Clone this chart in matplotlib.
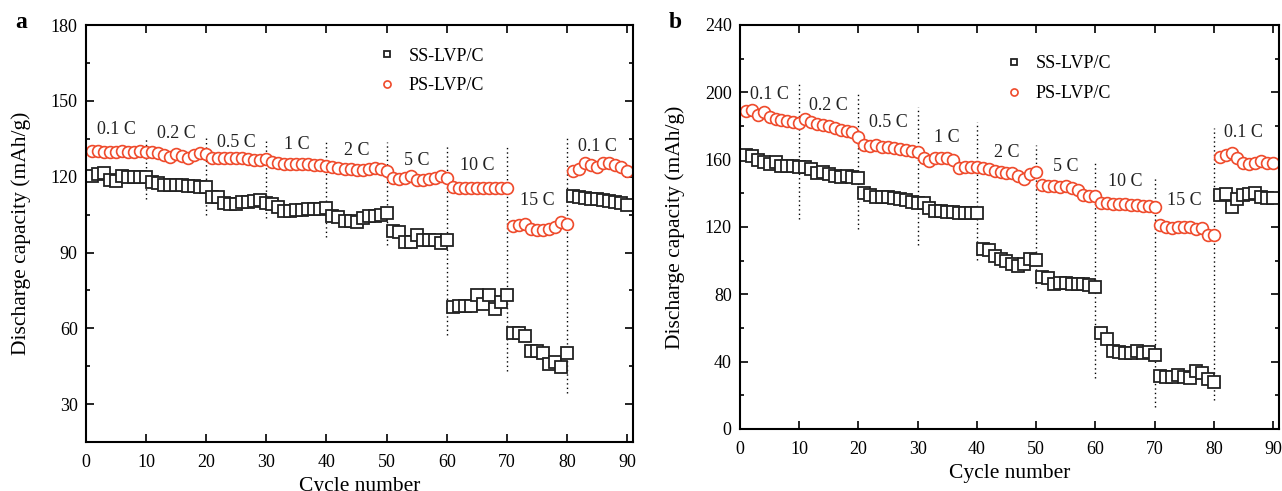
import numpy as np
import matplotlib.pyplot as plt
from matplotlib.ticker import MultipleLocator

plt.rcParams['font.family'] = ['Liberation Serif', 'DejaVu Serif']

cycles = np.arange(1, 91)

# panel a
ss_a = [120.2, 121.0, 121.3, 118.9, 118.4, 120.2, 120.0, 119.7, 119.7, 119.7,
        118.0, 117.4, 116.7, 116.7, 116.7, 116.7, 116.3, 116.3, 115.8, 115.8,
        112.1, 112.1, 109.7, 109.2, 109.4, 110.1, 110.1, 110.5, 110.7, 109.7,
        109.4, 108.1, 106.4, 106.4, 106.8, 106.8, 107.1, 107.1, 107.1, 107.5,
        104.5, 104.0, 102.5, 102.5, 102.0, 103.5, 104.5, 104.5, 105.0, 105.5,
        98.6, 98.2, 94.2, 94.2, 96.9, 94.9, 94.9, 94.9, 93.6, 94.9,
        68.5, 68.8, 68.8, 68.8, 73.2, 69.6, 73.2, 67.5, 70.5, 73.2,
        58.0, 58.0, 56.9, 51.1, 51.1, 50.3, 45.8, 46.8, 44.8, 50.3,
        112.3, 112.1, 111.4, 111.0, 111.0, 110.7, 110.5, 110.1, 109.7, 108.8]
ps_a = [130.0, 130.0, 129.9, 129.9, 129.9, 130.0, 129.9, 129.9, 130.0, 129.6,
        129.9, 129.5, 128.6, 127.9, 129.0, 128.2, 127.6, 128.6, 129.2, 128.8,
        127.6, 127.5, 127.5, 127.6, 127.6, 127.5, 127.1, 126.7, 126.7, 127.1,
        125.9, 125.5, 125.2, 125.2, 125.2, 124.9, 124.9, 124.5, 124.5, 124.2,
        123.9, 123.3, 123.0, 123.0, 122.6, 122.6, 123.0, 123.3, 123.0, 122.2,
        119.3, 119.1, 119.3, 120.2, 118.7, 118.7, 119.1, 119.3, 120.2, 119.6,
        116.0, 115.7, 115.6, 115.6, 115.7, 115.6, 115.7, 115.6, 115.6, 115.7,
        100.5, 100.9, 101.3, 99.2, 98.9, 98.9, 99.2, 100.2, 102.2, 101.1,
        122.2, 122.9, 125.3, 124.6, 123.9, 125.3, 125.5, 124.6, 123.9, 122.2]

# panel b
ss_b = [163.0, 162.0, 159.5, 158.4, 157.4, 158.4, 156.4, 156.4, 156.4, 155.9,
        155.9, 154.2, 151.9, 152.8, 151.5, 150.2, 149.5, 150.2, 149.8, 148.9,
        140.4, 139.0, 137.9, 137.9, 137.6, 137.0, 136.4, 136.0, 135.1, 134.0,
        134.4, 131.1, 129.6, 129.6, 129.0, 129.0, 128.5, 128.5, 128.5, 128.5,
        106.7, 106.2, 102.6, 101.0, 99.5, 98.0, 96.9, 98.0, 100.8, 100.3,
        90.1, 89.4, 86.1, 86.5, 86.5, 86.1, 86.1, 86.1, 85.4, 84.1,
        56.8, 53.3, 46.5, 45.9, 45.3, 45.0, 46.5, 45.3, 45.9, 43.9,
        31.4, 30.6, 31.0, 32.0, 30.6, 30.1, 34.6, 33.1, 29.5, 28.0,
        139.0, 139.6, 131.7, 136.4, 139.0, 139.6, 140.4, 137.9, 137.0, 137.0]
ps_b = [189.1, 189.5, 186.5, 188.5, 185.2, 184.0, 183.5, 183.1, 182.5, 181.6,
        184.0, 182.5, 181.2, 180.6, 180.0, 178.6, 177.6, 177.0, 176.6, 173.6,
        168.7, 168.1, 168.7, 167.7, 167.3, 166.7, 166.1, 165.7, 165.3, 164.7,
        160.8, 159.3, 160.8, 160.8, 160.8, 159.8, 154.8, 155.5, 155.8, 155.5,
        154.8, 154.2, 153.4, 152.8, 152.3, 151.9, 150.2, 148.3, 151.5, 152.8,
        144.9, 144.3, 144.3, 143.6, 144.3, 142.9, 141.9, 139.0, 138.3, 138.3,
        134.4, 134.0, 133.6, 133.6, 133.6, 133.2, 133.0, 132.5, 132.5, 132.0,
        121.1, 119.8, 119.2, 120.2, 119.8, 120.2, 118.6, 119.2, 115.2, 115.2,
        161.4, 162.7, 164.2, 160.8, 157.8, 157.4, 158.2, 159.3, 158.2, 157.8]

rates = ['0.1 C', '0.2 C', '0.5 C', '1 C', '2 C', '5 C', '10 C', '15 C', '0.1 C']
rate_x = [5, 15, 25, 35, 45, 55, 65, 75, 85]
rate_y_a = [138.5, 137.3, 133.7, 132.9, 130.5, 126.6, 124.6, 110.7, 132.1]
rate_y_b = [199.0, 192.3, 181.8, 173.4, 164.0, 156.2, 147.2, 135.5, 175.9]

sep_x = [10, 20, 30, 40, 50, 60, 70, 80]
sep_lo_a = [111.1, 104.8, 103.6, 96.1, 93.0, 57.3, 43.0, 34.4]
sep_hi_a = [135.3, 136.1, 135.3, 134.5, 133.7, 132.5, 132.5, 135.7]
sep_lo_b = [124.6, 118.8, 109.2, 100.3, 83.6, 30.3, 12.9, 17.0]
sep_hi_b = [206.1, 200.1, 191.2, 182.3, 168.7, 158.4, 149.7, 178.9]

red = '#ef4a2b'

fig = plt.figure(figsize=(12.82, 4.91), dpi=100)
ax1 = fig.add_axes([0.0671, 0.0998, 0.4267, 0.849])
ax2 = fig.add_axes([0.5772, 0.1263, 0.4204, 0.8228])


def draw(ax, ss, ps, ry, lo, hi, ylim, ystep, leg_pos):
    for x, a, b in zip(sep_x, lo, hi):
        ax.plot([x, x], [a, b], color='black', lw=1.0, ls=(0, (1, 2.2)))
    ax.plot(cycles, ss, ls='none', marker='s', ms=8, mfc='white', mec='#222222',
            mew=1.3, label='SS-LVP/C')
    ax.plot(cycles, ps, ls='none', marker='o', ms=8.5, mfc='white', mec=red,
            mew=1.2, label='PS-LVP/C')
    for t, x, y in zip(rates, rate_x, ry):
        ax.text(x, y, t, ha='center', va='center', fontsize=13, color='#222222')
    ax.set_xlim(0, 91)
    ax.set_ylim(*ylim)
    ax.xaxis.set_major_locator(MultipleLocator(10))
    ax.yaxis.set_major_locator(MultipleLocator(ystep))
    ax.yaxis.set_minor_locator(MultipleLocator(ystep / 2))
    ax.tick_params(which='both', direction='in', top=True, right=True,
                   labelsize=13, width=1.2)
    ax.tick_params(axis='x', pad=9)
    ax.tick_params(axis='y', pad=6)
    ax.tick_params(which='major', length=6)
    ax.tick_params(which='minor', length=3)
    for s in ax.spines.values():
        s.set_linewidth(1.5)
    ax.set_xlabel('Cycle number', fontsize=15.5, labelpad=4)
    ax.set_ylabel('Discharge capacity (mAh/g)', fontsize=15.5, labelpad=14)
    ax.legend(loc='upper left', bbox_to_anchor=leg_pos, frameon=False,
              fontsize=13, markerscale=0.6, handletextpad=0.6, labelspacing=0.7,
              handlelength=1.2)


draw(ax1, ss_a, ps_a, rate_y_a, sep_lo_a, sep_hi_a, (15, 180), 30, (0.50, 0.985))
draw(ax2, ss_b, ps_b, rate_y_b, sep_lo_b, sep_hi_b, (0, 240), 40, (0.458, 0.965))

fig.text(0.012, 0.955, 'a', fontsize=17, fontweight='bold', va='center')
fig.text(0.522, 0.955, 'b', fontsize=17, fontweight='bold', va='center')

fig.savefig('out.png', dpi=100)
